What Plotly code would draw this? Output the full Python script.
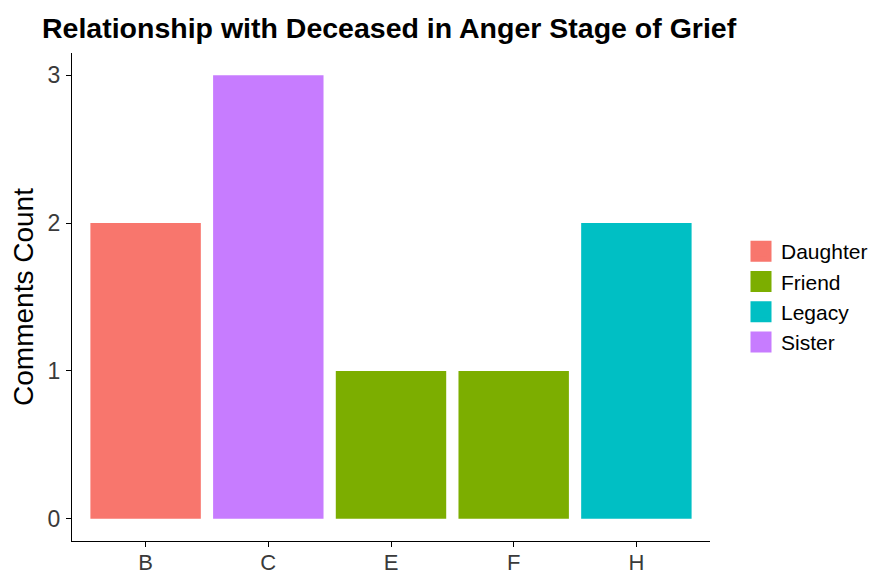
import plotly.graph_objects as go

categories = ["B", "C", "E", "F", "H"]
counts = [2, 3, 1, 1, 2]
relationship = ["Daughter", "Sister", "Friend", "Friend", "Legacy"]
legend_order = ["Daughter", "Friend", "Legacy", "Sister"]
colors = {"Daughter": "#F8766D", "Friend": "#7CAE00", "Legacy": "#00BFC4", "Sister": "#C77CFF"}
y_ticks = [0, 1, 2, 3]

FONT = "Liberation Sans, Arial, sans-serif"
TXT = "#3a3a3a"

# page body has an 8px margin; figure is sized so the visible area is 877x577
W, H = 869, 569

fig = go.Figure()
for rel in legend_order:
    xs = [c for c, r in zip(categories, relationship) if r == rel]
    ys = [v for v, r in zip(counts, relationship) if r == rel]
    fig.add_trace(go.Bar(x=xs, y=ys, name=rel, marker=dict(color=colors[rel], line=dict(width=0)),
                         width=0.9, showlegend=False))
    fig.add_trace(go.Scatter(x=[None], y=[None], mode="markers", name=rel,
                             marker=dict(symbol="square", size=16, color=colors[rel],
                                         line=dict(color=colors[rel], width=5)),
                             legendgroup=rel, showlegend=True))

fig.update_layout(
    width=W, height=H,
    margin=dict(l=64, r=167, t=45, b=36),
    paper_bgcolor="white", plot_bgcolor="white",
    barmode="overlay",
    font=dict(family=FONT, color=TXT),
    title=dict(text="<b>Relationship with Deceased in Anger Stage of Grief</b>",
               font=dict(size=28.5, color="black", family=FONT),
               x=34/W, xanchor="left", xref="container",
               y=1-10/H, yanchor="top", yref="container"),
    xaxis=dict(type="category", categoryorder="array", categoryarray=categories,
               range=[-0.6, 4.6], showline=True, linecolor="black", linewidth=1.3,
               ticks="outside", ticklen=5, tickcolor="black", tickwidth=1, ticklabelstandoff=-4,
               tickfont=dict(size=22, color=TXT), showgrid=False, zeroline=False,
               automargin=False),
    yaxis=dict(range=[-0.15, 3.15], tickvals=y_ticks, showline=True, linecolor="black", linewidth=1.3,
               ticks="outside", ticklen=5, tickcolor="black", tickwidth=1, ticklabelstandoff=1,
               tickfont=dict(size=23, color=TXT), showgrid=False, zeroline=False,
               automargin=False,
               title=dict(text="Comments Count", font=dict(size=28, color="black"), standoff=5)),
    legend=dict(x=733/W, xanchor="left", xref="container", y=0.5, yanchor="middle",
                font=dict(size=21, color="black", family=FONT),
                tracegroupgap=0, itemsizing="trace", bgcolor="rgba(0,0,0,0)"),
)

fig.write_html("out.html")
